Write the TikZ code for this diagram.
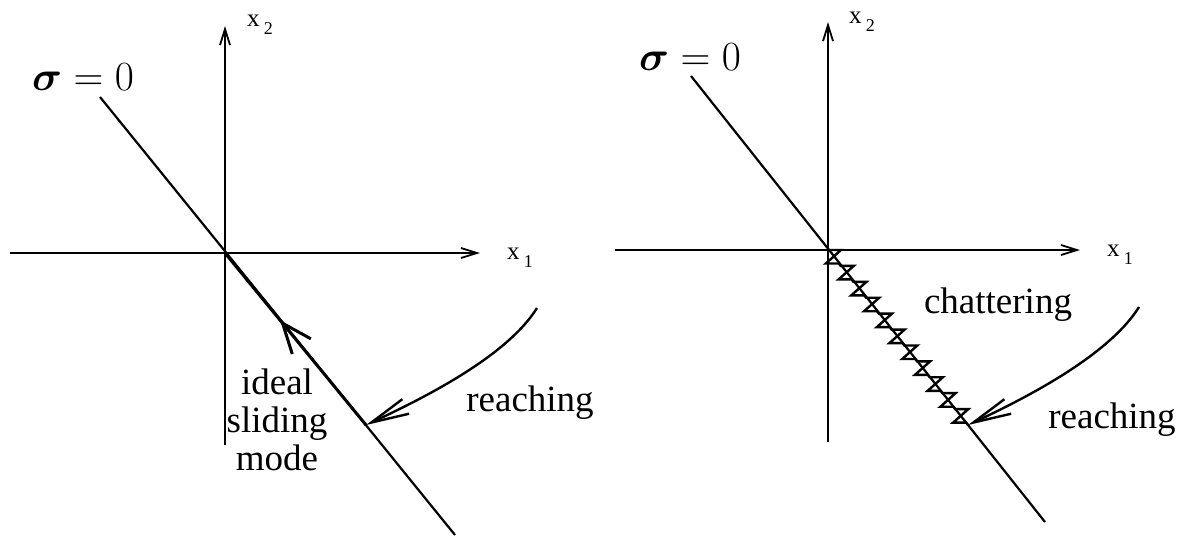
\documentclass[tikz,border=0pt]{standalone}
\usepackage{amsmath}
\usepackage{fontspec}
\setmainfont{Liberation Serif}
\newfontfamily\plotfont{Liberation Serif}
\usetikzlibrary{arrows.meta, calc, decorations.markings}

\begin{document}
\begin{tikzpicture}[
    x=0.5pt, y=-0.5pt,
    axis/.style={line width=0.9pt, -{Straight Barb[length=8pt, width=5pt]}},
    surface/.style={line width=1.1pt},
    slide/.style={line width=1.5pt},
    reach/.style={line width=1.2pt, -{Straight Barb[length=19pt, width=8pt]}},
    chatter/.style={line width=1.2pt, line join=miter},
    note/.style={font=\plotfont\fontsize{18.5}{19}\selectfont, align=center, inner sep=0pt},
    axlabel/.style={font=\plotfont\fontsize{12.5}{14}\selectfont, inner sep=0pt},
    sigmalabel/.style={font=\fontsize{20.74}{24}\selectfont, inner sep=0pt},
]
    \useasboundingbox (0,0) rectangle (1186,537);

    % Left panel: ideal sliding mode
    \coordinate (O1) at (225,253);
    \coordinate (R1) at (366,425);
    \coordinate (S1) at (537,308);
    \draw[axis] (225,445) -- (225,26);
    \draw[axis] (10,253) -- (480,253);
    \node[axlabel] (x21) at (260,25) {x\,\raisebox{-.7ex}{\small 2}};
    \node[axlabel] (x11) at (520,258) {x\,\raisebox{-.7ex}{\small 1}};
    \node[sigmalabel] (sig1) at (83,77) {$\boldsymbol{\sigma} = 0$};
    \draw[surface] (100,97) -- (455,535);
    \draw[slide, postaction={decorate}, decoration={markings,
        mark=at position 0.61 with {\arrow{Straight Barb[length=15pt, width=12pt]}}}] (R1) -- (O1);
    \draw[reach] (S1) .. controls +(-30,48) and +(60,-28) .. (R1);
    \node[note] (ideal) at (277,420) {ideal\\sliding\\mode};
    \node[note] (reach1) at (530,403) {reaching};

    % Right panel: chattering
    \coordinate (O2) at (828,250);
    \coordinate (R2) at (968,425);
    \coordinate (S2) at (1139,307);
    \draw[axis] (828,442) -- (828,22);
    \draw[axis] (615,250) -- (1080,250);
    \node[axlabel] (x22) at (862,22) {x\,\raisebox{-.7ex}{\small 2}};
    \node[axlabel] (x12) at (1120,255) {x\,\raisebox{-.7ex}{\small 1}};
    \node[sigmalabel] (sig2) at (690,57) {$\boldsymbol{\sigma} = 0$};
    \draw[surface] (691,76) -- (1045,522);
    \draw[chatter] (O2) \foreach \k in {0,...,10} {
        -- ($(O2)!{\k/11}!(R2)$) -- ++(13,0)
        -- ($(O2)!{(\k+0.85)/11}!(R2)+(-13,0)$)
        -- ($(O2)!{(\k+0.85)/11}!(R2)$) } -- (R2);
    \draw[reach] (S2) .. controls +(-30,48) and +(60,-28) .. (R2);
    \node[note] (chat) at (998,305) {chattering};
    \node[note] (reach2) at (1112,420) {reaching};
\end{tikzpicture}
\end{document}
